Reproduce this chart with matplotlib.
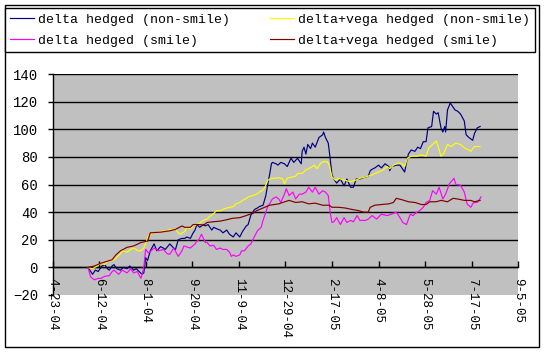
import matplotlib
matplotlib.use("Agg")
import matplotlib.pyplot as plt
from matplotlib.patches import Rectangle
import numpy as np

plt.rcParams['font.family'] = ['Liberation Mono', 'DejaVu Sans']

# ---------------- data (day offsets counted from day0) ----------------
day0 = "2004-04-25"

nav_days = [36, 39, 41, 44, 47, 51, 54, 57, 59, 62, 64, 67, 71, 74, 78, 81, 85, 88, 91, 94,
            96, 98, 100, 103, 107, 110, 114, 117, 119, 124, 128, 130, 133, 137, 140, 142, 146,
            149, 151, 153, 156, 160, 162, 165, 169, 171, 174, 178, 181, 185, 188, 192, 195, 199,
            202, 206, 208, 211, 215, 218, 220, 224, 227, 229, 231, 233, 234, 238, 240, 243, 247,
            250, 254, 257, 261, 265, 266, 268, 270, 272, 275, 277, 280, 284, 288, 289, 291, 294,
            296, 298, 300, 303, 307, 311, 314, 318, 321, 324, 328, 332, 337, 339, 341, 344, 348,
            351, 355, 359, 360, 362, 367, 371, 374, 376, 378, 380, 383, 387, 390, 393, 396, 399,
            401, 405, 407, 410, 412, 415, 417, 419, 420, 422, 425, 428, 430, 433, 436, 440, 442,
            445, 449, 451, 454, 457]
nav_vals = [0, -3, -5, -2, -3, 1, 2, -1, -2, 1, 2, -1, -2, 0, -1, 1, -2, -1, -3, -5,
            -4, 7, 5, 12, 17, 12, 15, 14, 13, 17, 14, 13, 20, 21, 21, 22, 21,
            25, 27, 31, 29, 31, 30, 31, 27, 29, 28, 27, 25, 27, 24, 22, 25, 22,
            26, 30, 31, 38, 42, 43, 44, 45, 52, 60, 67, 75, 76, 75, 74, 76, 75,
            73, 79, 76, 79, 75, 84, 87, 82, 89, 86, 90, 87, 94, 96, 98, 94, 90,
            79, 67, 64, 61, 64, 59, 64, 58, 58, 64, 64, 65, 66, 70, 71, 72, 74,
            72, 75, 73, 70, 73, 74, 74, 71, 69, 76, 82, 85, 84, 87, 86, 91, 91,
            101, 102, 113, 111, 112, 101, 98, 102, 98, 114, 119, 116, 114, 113, 111, 106, 96,
            94, 92, 97, 101, 102]

yel_days = [36, 41, 46, 50, 54, 57, 62, 64, 68, 71, 73, 78, 82, 85, 90, 93, 96, 101, 106, 110,
            114, 121, 124, 128, 130, 133, 135, 140, 142, 146, 149, 153, 156, 160, 164, 167, 171,
            174, 178, 181, 185, 188, 192, 195, 199, 202, 206, 208, 213, 217, 220, 224, 226, 229,
            233, 238, 241, 245, 247, 250, 256, 259, 261, 266, 270, 273, 277, 279, 282, 286, 289,
            293, 295, 298, 302, 305, 307, 312, 318, 323, 328, 334, 341, 344, 348, 353, 357, 360,
            364, 369, 373, 376, 379, 383, 389, 394, 399, 402, 406, 410, 412, 415, 418, 422, 426,
            431, 436, 440, 445, 447, 451, 457]
yel_vals = [0, -1, 1, 3, 2, 4.5, 5, 5.5, 8, 10, 12, 11, 13, 14, 12, 12, 14, 23, 25, 25,
            26, 26.5, 27.5, 27, 28, 25, 24, 26, 29, 28, 30, 31, 32, 34, 35, 37, 39,
            41, 41, 42, 43, 43.5, 44, 46, 47, 48.5, 50, 51, 52, 53, 54.5, 56, 58, 63,
            64.5, 64.5, 65, 64, 60.5, 64.5, 65.5, 66, 68, 68, 70.5, 71.5, 73, 74, 71.5, 75.5, 76.5,
            76.5, 74, 65.5, 63, 64.5, 64, 63, 62, 63, 64.5, 65.5, 67, 68, 69, 70.5, 73, 71.5,
            74, 75.5, 75, 73, 79, 80.5, 80.5, 81.5, 80.5, 86.5, 89, 91.5, 87.5, 80.5, 82.5, 89, 87.5,
            90, 89, 86.5, 85, 84, 87.5, 87.5]

mag_days = [36, 39, 43, 47, 50, 54, 59, 62, 64, 69, 73, 78, 82, 85, 89, 93, 96, 98, 101, 104,
            107, 112, 117, 121, 124, 128, 133, 137, 139, 146, 151, 153, 155, 158, 162, 164, 167,
            171, 174, 178, 181, 185, 188, 190, 192, 195, 199, 201, 204, 208, 211, 213, 218, 222,
            224, 227, 229, 231, 234, 238, 241, 243, 247, 249, 252, 256, 259, 263, 266, 270, 273,
            277, 280, 284, 288, 291, 294, 296, 298, 300, 303, 307, 311, 314, 318, 321, 325, 328,
            334, 337, 341, 344, 346, 351, 357, 362, 367, 371, 374, 378, 382, 385, 389, 392, 396,
            399, 403, 406, 410, 413, 417, 420, 424, 429, 431, 436, 440, 443, 447, 450, 454, 458]
mag_vals = [0, -7, -9, -8, -8, -6.5, -6, -3, -2, -5, -2, -4, -1, -4, -3, -8, 0, 13, 10.5, 12,
            14, 12, 13, 10, 9.5, 14, 8, 12, 15.5, 14, 17, 19, 20, 24, 18, 18, 15.5,
            16, 13, 14, 13, 13, 11, 8, 9, 8, 9, 12, 12, 15.5, 17, 20, 26.5, 29,
            34, 40, 44, 46, 49.5, 51, 49.5, 47, 53, 57, 52, 54.5, 49.5, 53, 53, 54.5, 58,
            54.5, 58, 53, 55.5, 54.5, 52, 40, 32.5, 33, 36, 31, 36, 32.5, 34, 33, 37.5, 34,
            34, 35, 37.5, 36, 35, 38.5, 37.5, 38.5, 40, 36, 32.5, 31, 38.5, 37.5, 40, 41, 43.5,
            47, 48.5, 55.5, 53, 58, 49.5, 53, 60.5, 64.5, 60, 59.5, 54.5, 46, 43.5, 47, 47, 51]

brn_days = [36, 43, 50, 57, 62, 66, 71, 78, 85, 93, 100, 103, 114, 124, 130, 137, 140, 146, 149,
            156, 160, 164, 170, 178, 185, 191, 199, 206, 210, 213, 217, 224, 231, 236, 241, 245,
            252, 259, 266, 273, 280, 288, 295, 298, 305, 312, 319, 327, 332, 337, 339, 344, 351,
            359, 364, 367, 373, 380, 387, 394, 399, 403, 410, 415, 422, 428, 433, 440, 447, 451, 457]
brn_vals = [0, 1, 3, 4.5, 5.5, 9, 12, 14.5, 15.5, 18, 19, 25, 25.5, 26.5, 27.5, 30, 29, 29, 31,
            31, 30.5, 32.5, 33, 33.5, 34.5, 35.5, 36, 37.5, 38.5, 39, 41, 43, 45, 45.5, 46, 47,
            48.5, 47, 47.5, 46, 46.5, 45, 45, 43.5, 43.5, 43, 42, 41, 40, 40, 43.5, 45, 45.5,
            46, 47, 50, 49, 47.5, 47, 45.5, 45.5, 47.5, 47.5, 48.5, 47.5, 50, 49.5, 48.5, 48.5, 47.5, 48.5]

series_labels = ["delta hedged (non-smile)", "delta+vega hedged (non-smile)",
                 "delta hedged (smile)", "delta+vega hedged (smile)"]
series_colors = ["#000080", "#FFFF00", "#FF00FF", "#800000"]

tick_dates = ["2004-04-23", "2004-06-12", "2004-08-01", "2004-09-20", "2004-11-09",
              "2004-12-29", "2005-02-17", "2005-04-08", "2005-05-28", "2005-07-17", "2005-09-05"]
tick_labels = ["4-23-04", "6-12-04", "8-1-04", "9-20-04", "11-9-04", "12-29-04",
               "2-17-05", "4-8-05", "5-28-05", "7-17-05", "9-5-05"]
y_ticks = [-20, 0, 20, 40, 60, 80, 100, 120, 140]

# ---------------- plot ----------------
W, H = 545, 355
fig = plt.figure(figsize=(W / 100, H / 100), dpi=100)
fig.patch.set_facecolor("white")

ax = fig.add_axes([52.5 / W, 1 - 295 / H, 465.8 / W, 221 / H])
ax.set_facecolor("#C0C0C0")

base = np.datetime64(day0)
def to_dates(days):
    return base + np.array(days, dtype="timedelta64[D]")

data = [(nav_days, nav_vals), (yel_days, yel_vals), (mag_days, mag_vals), (brn_days, brn_vals)]
handles = []
for (d, v), lab, col in zip(data, series_labels, series_colors):
    ln, = ax.plot(to_dates(d), v, color=col, lw=0.85, label=lab, zorder=3)
    handles.append(ln)

tdates = np.array(tick_dates, dtype="datetime64[D]")
ax.set_xlim(tdates[0], tdates[-1])
ax.set_ylim(y_ticks[0], y_ticks[-1])
ax.set_yticks(y_ticks)
ax.set_xticks(tdates)
ax.set_xticklabels(tick_labels)

for s in ["top", "right"]:
    ax.spines[s].set_visible(False)
ax.spines["bottom"].set_position(("data", 0))
ax.spines["bottom"].set_linewidth(1)
ax.spines["left"].set_linewidth(1)

ax.tick_params(axis="x", direction="in", length=4, width=1, pad=8, labelsize=9)
ax.tick_params(axis="y", direction="out", length=3.5, width=1, pad=7, labelsize=10)
for lbl in ax.get_xticklabels():
    lbl.set_rotation(-90)
    lbl.set_va("top")
    lbl.set_ha("center")

ax.yaxis.grid(True, color="black", lw=1)
ax.set_axisbelow(True)
ax.get_ygridlines()[0].set_visible(False)

# legend: column order navy, magenta | yellow, brown
order = [0, 2, 1, 3]
leg = fig.legend([handles[i] for i in order], [series_labels[i] for i in order],
                 loc="upper left", bbox_to_anchor=(5 / W, 1 - 54 / H, 530 / W, 46 / H),
                 mode="expand", ncol=2, frameon=True, fancybox=False, edgecolor="black",
                 framealpha=1, borderaxespad=0, handlelength=1.8, handletextpad=0.3,
                 labelspacing=0.7, borderpad=0.4, fontsize=9.5)
leg.get_frame().set_linewidth(1)

fig.patches.append(Rectangle((5 / W, 1 - 347 / H), 534 / W, 342 / H, transform=fig.transFigure,
                             fill=False, edgecolor="black", lw=1))

fig.savefig("out.png", dpi=100)
